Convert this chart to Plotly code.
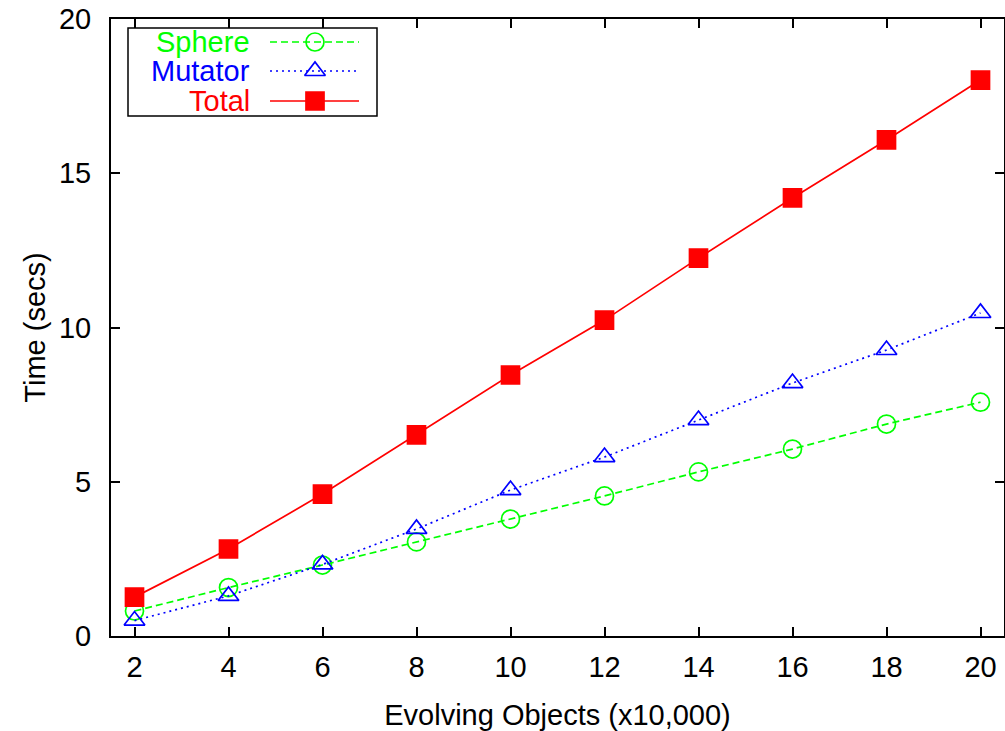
import plotly.graph_objects as go

x_vals = [2, 4, 6, 8, 10, 12, 14, 16, 18, 20]
sphere = [0.81, 1.57, 2.30, 3.05, 3.79, 4.54, 5.32, 6.06, 6.87, 7.58]
mutator = [0.50, 1.30, 2.32, 3.47, 4.73, 5.80, 7.00, 8.20, 9.27, 10.47]
total = [1.26, 2.82, 4.60, 6.52, 8.46, 10.24, 12.25, 14.20, 16.08, 18.02]

x_ticks = [2, 4, 6, 8, 10, 12, 14, 16, 18, 20]
y_ticks = [0, 5, 10, 15, 20]

series_names = ["Sphere", "Mutator", "Total"]
colors = ["#00ff00", "#0000ff", "#ff0000"]
dashes = ["7px,4px", "2px,4px", "solid"]
symbols = ["circle-open", "triangle-up-open", "square"]

FONT = "Liberation Sans, Arial, Helvetica, sans-serif"
FS = 29

fig = go.Figure()
for name, ys, c, d, s in zip(series_names, [sphere, mutator, total], colors, dashes, symbols):
    fig.add_trace(go.Scatter(
        x=x_vals, y=ys, mode="lines+markers", name=name,
        line=dict(color=c, width=1.7, dash=d),
        marker=dict(symbol=s, size=18, color=c, line=dict(color=c, width=1.7)),
        showlegend=False,
    ))

# custom gnuplot-style legend (text right, sample on right) on an overlay pixel axis
legend_rows = [42, 71, 101]
for name, c, d, s, ry in zip(series_names, colors, dashes, symbols, legend_rows):
    fig.add_trace(go.Scatter(
        x=[270 - 111, 359 - 111], y=[ry - 19, ry - 19], mode="lines",
        line=dict(color=c, width=1.7, dash=d), xaxis="x2", yaxis="y2",
        showlegend=False, hoverinfo="skip"))
    fig.add_trace(go.Scatter(
        x=[315 - 111], y=[ry - 19], mode="markers",
        marker=dict(symbol=s, size=18, color=c, line=dict(color=c, width=1.7)),
        xaxis="x2", yaxis="y2", showlegend=False, hoverinfo="skip"))
    fig.add_annotation(x=252 - 111, y=ry - 19, xref="x2", yref="y2", text=name,
                       showarrow=False, xanchor="right", yanchor="middle",
                       font=dict(family=FONT, size=FS, color=c))

fig.add_shape(type="rect", xref="x2", yref="y2", x0=128 - 111, x1=377 - 111,
              y0=28 - 19, y1=116 - 19, line=dict(color="black", width=1.5),
              fillcolor="white", layer="below")

axis_common = dict(
    showgrid=False, zeroline=False, showline=True, linecolor="black", linewidth=2,
    mirror="ticks", ticks="inside", ticklen=9, tickwidth=1.5, tickcolor="black",
    tickfont=dict(family=FONT, size=FS, color="black"), automargin=False,
)

fig.update_layout(
    width=1005, height=731,
    margin=dict(l=111, r=1, t=19, b=95),
    paper_bgcolor="white", plot_bgcolor="white",
    font=dict(family=FONT, size=FS, color="black"),
    xaxis=dict(range=[1.5, 20.5], tickvals=x_ticks, ticktext=[str(v) for v in x_ticks],
               title=dict(text="Evolving Objects (x10,000)", font=dict(family=FONT, size=FS),
                          standoff=38),
               ticklabelstandoff=4, **axis_common),
    yaxis=dict(range=[0, 20], tickvals=y_ticks, ticktext=[str(v) for v in y_ticks],
               title=dict(text="Time (secs)", font=dict(family=FONT, size=FS), standoff=5),
               ticklabelstandoff=12, **axis_common),
    xaxis2=dict(range=[0, 893], overlaying="x", visible=False, fixedrange=True),
    yaxis2=dict(range=[617, 0], overlaying="y", visible=False, fixedrange=True),
)

fig.write_html("out.html")
